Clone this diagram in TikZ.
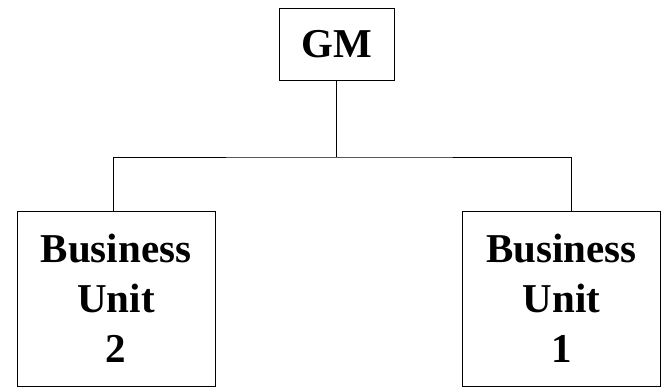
\documentclass[tikz,border=0pt]{standalone}
\usepackage{fontspec}
\setmainfont{Liberation Serif}
\usepackage{tikz}
\usetikzlibrary{
  positioning,  % Function "of" (e.g. [right=of x])
}
\def\mybarlevel{231pt}
\tikzset{
  font=\bfseries\fontsize{41}{50}\selectfont,
  line width=1.5pt,
  my box/.style={
    draw,
    rectangle,
    inner sep=0mm,
    align=center
  },
  my head/.style={
    my box,
    minimum width=115pt,
    minimum height=72pt
  },
  my unit/.style={
    my box,
    minimum width=198pt,
    minimum height=175pt
  }
}
\begin{document}
\begin{tikzpicture}[x=1pt,y=1pt]
\useasboundingbox (0,0) rectangle (661,388);
\node[my head] (gm)  at (336.5,344) {GM};
\node[my unit] (bu2) at (116,89.5)   {Business\\Unit\\2};
\node[my unit] (bu1) at (561.5,89.5) {Business\\Unit\\1};
\coordinate (bar)   at (gm.south |- 0,\mybarlevel);
\coordinate (dropL) at ([xshift=-3pt]bu2.north);
\coordinate (dropR) at ([xshift=9.5pt]bu1.north);
\draw (gm.south) -- (bar);
\draw (dropL) |- (bar) -| (dropR);
\end{tikzpicture}
\end{document}
